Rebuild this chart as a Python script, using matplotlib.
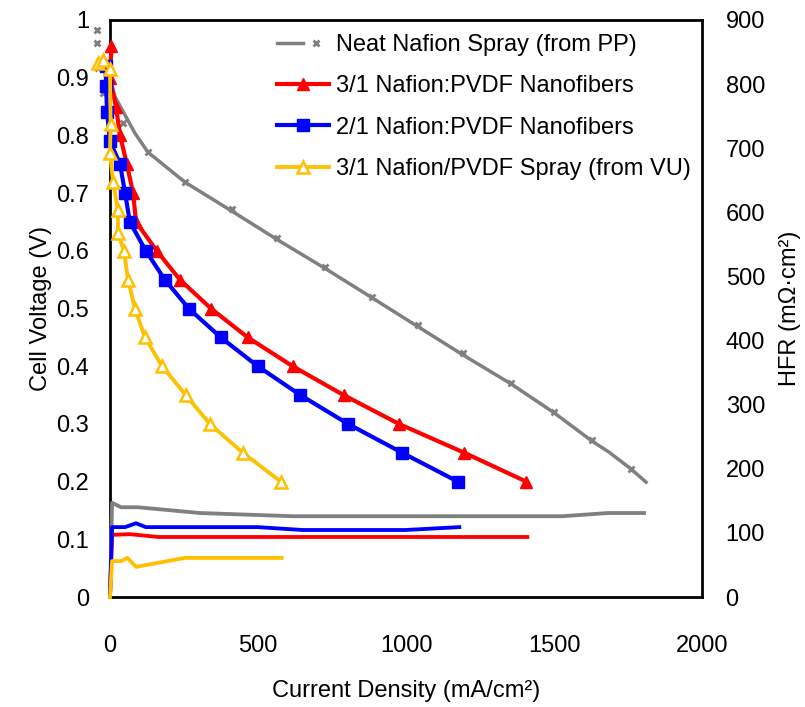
import matplotlib
matplotlib.use("Agg")
import matplotlib.pyplot as plt
from matplotlib.legend_handler import HandlerTuple

plt.rcParams['font.family'] = ['Liberation Sans', 'DejaVu Sans']
plt.rcParams['font.size'] = 17

# polarization curves: current density (mA/cm2) vs cell voltage (V)
neat_line_x = [0, 17, 84, 128, 253, 411, 563, 725, 884, 1039, 1191, 1356, 1501, 1629, 1686, 1760, 1811]
neat_line_v = [0.896, 0.867, 0.804, 0.771, 0.719, 0.669, 0.620, 0.570, 0.519, 0.469, 0.420, 0.369, 0.319, 0.270, 0.251, 0.222, 0.199]
neat_pts_x = [-44, -44, -40, -24, 44, 128, 253, 411, 563, 725, 884, 1039, 1191, 1356, 1501, 1629, 1760]
neat_pts_v = [0.983, 0.960, 0.917, 0.873, 0.821, 0.771, 0.719, 0.672, 0.622, 0.572, 0.520, 0.471, 0.423, 0.371, 0.321, 0.272, 0.222]

nf31_x = [5, 0, 20, 34, 57, 78, 88, 158, 236, 341, 465, 617, 789, 976, 1197, 1406]
nf31_v = [0.955, 0.90, 0.85, 0.80, 0.75, 0.70, 0.65, 0.60, 0.55, 0.50, 0.45, 0.40, 0.35, 0.30, 0.25, 0.20]

nf21_x = [-15, -13, -10, 0, 34, 51, 67, 121, 185, 266, 374, 499, 643, 804, 987, 1175]
nf21_v = [0.92, 0.885, 0.84, 0.79, 0.75, 0.70, 0.65, 0.60, 0.55, 0.50, 0.45, 0.40, 0.35, 0.30, 0.25, 0.20]

spray_x = [-40, -22, 0, 2, 0, 10, 27, 27, 47, 61, 84, 118, 176, 256, 337, 449, 577]
spray_v = [0.925, 0.93, 0.915, 0.82, 0.77, 0.72, 0.67, 0.63, 0.60, 0.55, 0.50, 0.45, 0.40, 0.35, 0.30, 0.25, 0.20]

# HFR (mOhm cm2)
hfr_neat_x = [0, 7, 37, 94, 304, 617, 1528, 1683, 1804]
hfr_neat = [0, 147, 140, 140, 131, 126, 126, 131, 131]
hfr_31_x = [0, 7, 67, 164, 1410]
hfr_31 = [0, 97, 98, 93.6, 93.6]
hfr_21_x = [0, 7, 51, 88, 121, 499, 651, 998, 1180]
hfr_21 = [0, 109, 109, 115, 109, 109, 104.5, 104.5, 109]
hfr_sp_x = [0, 7, 37, 59, 88, 253, 580]
hfr_sp = [0, 56, 56, 61, 47, 61, 61]

labels = ["Neat Nafion Spray (from PP)", "3/1 Nafion:PVDF Nanofibers",
          "2/1 Nafion:PVDF Nanofibers", "3/1 Nafion/PVDF Spray (from VU)"]
gray, red, blue, yellow = "#808080", "#FF0000", "#0000FF", "#FFC000"

fig = plt.figure(figsize=(8.05, 7.07), dpi=100)
ax = fig.add_axes([110/805, 1 - 597/707, 592/805, 577/707])
ax2 = ax.twinx()

gl, = ax.plot(neat_line_x, neat_line_v, color=gray, lw=2.5, clip_on=False, zorder=3)
gm, = ax.plot(neat_pts_x, neat_pts_v, ls="none", marker="x", ms=5, mew=2, color=gray,
              clip_on=False, zorder=3)
rl, = ax.plot(nf31_x, nf31_v, color=red, lw=3, marker="^", ms=9, clip_on=False, zorder=3)
bl, = ax.plot(nf21_x, nf21_v, color=blue, lw=3, marker="s", ms=9, clip_on=False, zorder=3)
yl, = ax.plot(spray_x, spray_v, color=yellow, lw=2.75, marker="^", ms=8, mfc="white",
              mec=yellow, mew=1.8, clip_on=False, zorder=3)

for xs, ys, c in [(hfr_neat_x, hfr_neat, gray), (hfr_31_x, hfr_31, red),
                  (hfr_21_x, hfr_21, blue), (hfr_sp_x, hfr_sp, yellow)]:
    ax2.plot(xs, ys, color=c, lw=2.75, clip_on=False, zorder=3)

ax.set_xlim(0, 2000)
ax.set_ylim(0, 1)
ax2.set_ylim(0, 900)
ax.set_xticks([0, 500, 1000, 1500, 2000])
ax.set_yticks([i / 10 for i in range(11)])
ax.set_yticklabels(["0"] + ["%.1f" % (i / 10) for i in range(1, 10)] + ["1"])
ax2.set_yticks(range(0, 901, 100))

ax.tick_params(axis="x", length=0, pad=27)
ax.tick_params(axis="y", length=0, pad=15)
ax2.tick_params(axis="y", length=0, pad=17)
for s in ax.spines.values():
    s.set_linewidth(2)
    s.set_color("black")
for s in ax2.spines.values():
    s.set_visible(False)

ax.set_xlabel("Current Density (mA/cm²)", labelpad=17)
ax.set_ylabel("Cell Voltage (V)", labelpad=3)
ax2.set_ylabel("HFR (mΩ·cm²)", labelpad=10)

leg = ax.legend([(gl, gm), rl, bl, yl], labels, handler_map={tuple: HandlerTuple(ndivide=None)},
                loc="upper left", bbox_to_anchor=(277/805, 1 - 34/707),
                bbox_transform=fig.transFigure, frameon=False, borderpad=0,
                borderaxespad=0, handlelength=2.2, handletextpad=0.3, labelspacing=0.82)

fig.savefig("out.png", dpi=100)
